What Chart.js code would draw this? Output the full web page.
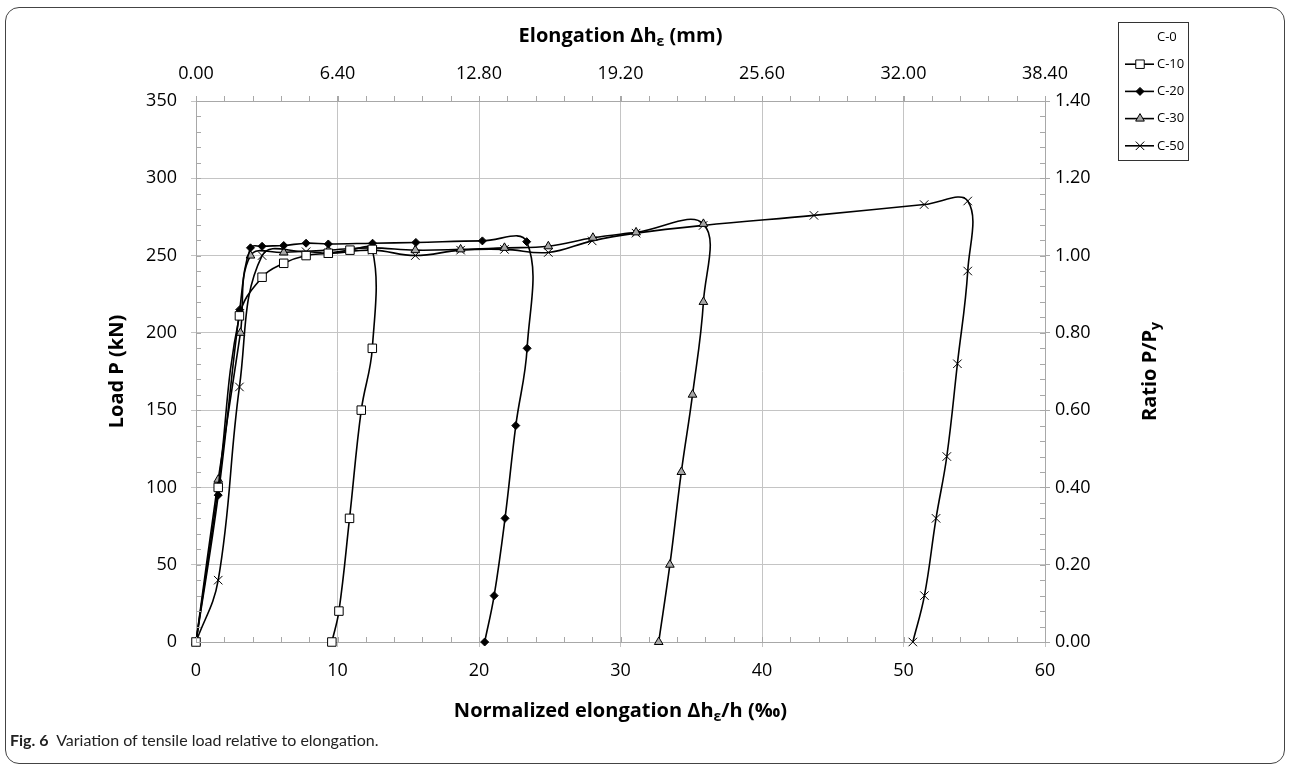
<!DOCTYPE html>
<html lang="en">
<head>
<meta charset="UTF-8">
<title>Fig. 6 - Tensile load vs elongation</title>
<script src="https://cdn.jsdelivr.net/npm/chart.js"></script>
<style>
    body {
        margin: 0;
        background: #fff;
        font-family: "Open Sans", sans-serif;
    }
    #frame {
        position: absolute;
        left: 5px;
        top: 7px;
        width: 1278px;
        height: 755px;
        border: 1px solid #444;
        border-radius: 14px;
    }
    #wrap {
        position: absolute;
        left: 0;
        top: 0;
        width: 1290px;
        height: 771px;
    }
    #caption {
        position: absolute;
        left: 10px;
        top: 730px;
        font-family: Lato, sans-serif;
        font-size: 16px;
        color: #222;
    }
</style>
</head>
<body>
<div id="frame"></div>
<div id="wrap"><canvas id="chart" width="1290" height="771"></canvas></div>
<div id="caption"><b>Fig. 6</b>&nbsp; Variation of tensile load relative to elongation.</div>

<script>
// valori: allungamento normalizzato (‰) e carico P (kN)
const seriesNames = ['C-0', 'C-10', 'C-20', 'C-30', 'C-50'];

const c0Strain = [];
const c0Load = [];

const c10Strain = [0, 1.57, 3.07, 4.67, 6.2, 7.78, 9.35, 10.88, 12.46, 12.46, 11.68, 10.85, 10.1, 9.6];
const c10Load = [0, 100, 211, 236, 245, 250, 251.5, 253.5, 254, 190, 150, 80, 20, 0];

const c20Strain = [0, 1.57, 3.09, 3.85, 4.67, 6.2, 7.78, 9.35, 12.48, 15.54, 20.24, 23.37, 23.4, 22.6, 21.84, 21.07, 20.4];
const c20Load = [0, 95, 215, 255, 256, 256.5, 258, 257.5, 258, 258.5, 259.5, 259, 190, 140, 80, 30, 0];

const c30Strain = [0, 1.57, 3.14, 3.85, 6.2, 9.35, 12.4, 15.5, 18.7, 21.8, 24.9, 28.05, 31.1, 35.86, 35.86, 35.09, 34.3, 33.49, 32.7];
const c30Load = [0, 105, 200, 250, 252, 253.5, 255, 253.5, 254, 255, 256, 261.5, 265, 270.5, 220, 160, 110, 50, 0];

const c50Strain = [0, 1.57, 3.07, 4.67, 7.78, 9.35, 12.48, 15.5, 18.7, 21.8, 24.9, 28.0, 31.1, 35.84, 43.67, 51.46, 54.54, 54.54, 53.81, 53.06, 52.3, 51.48, 50.66];
const c50Load = [0, 40, 165, 250, 252.5, 251.5, 253.5, 250, 253.5, 254, 252, 259.5, 264.5, 269.5, 276, 283, 285.3, 240, 180, 120, 80, 30, 0];

// etichette degli assi
const normTicks = [0, 10, 20, 30, 40, 50, 60];
const elongTicks = [0, 6.4, 12.8, 19.2, 25.6, 32.0, 38.4];
const loadTicks = [0, 50, 100, 150, 200, 250, 300, 350];
const ratioTicks = [0, 0.2, 0.4, 0.6, 0.8, 1.0, 1.2, 1.4];

const titleBottom = [{ t: 'Normalized elongation Δh' }, { t: 'ε', sub: true }, { t: '/h (‰)' }];
const titleTop = [{ t: 'Elongation Δh' }, { t: 'ε', sub: true }, { t: ' (mm)' }];
const titleLeft = [{ t: 'Load P (kN)' }];
const titleRight = [{ t: 'Ratio P/P' }, { t: 'y', sub: true }];

const gridColor = '#c4c4c4';
const axisColor = '#a8a8a8';
const tickFont = { family: 'Open Sans', size: 18 };

function pts(xs, ys) {
    return xs.map((x, i) => ({ x: x, y: ys[i] }));
}

function makeSet(label, xs, ys, style, radius, fillCol) {
    return {
        label: label,
        data: pts(xs, ys),
        borderColor: '#000',
        borderWidth: 1.6,
        tension: 0.4,
        fill: false,
        clip: false,
        pointStyle: style,
        pointRadius: radius,
        pointHoverRadius: radius,
        pointBackgroundColor: fillCol,
        pointBorderColor: '#000',
        pointBorderWidth: 1
    };
}

// testo con pedici (ε, y)
function drawRich(ctx, parts, x, y, rot, size) {
    const big = 'bold ' + size + 'px "Open Sans"';
    const small = 'bold ' + Math.round(size * 0.68) + 'px "Open Sans"';
    ctx.save();
    ctx.translate(x, y);
    ctx.rotate(rot);
    ctx.textAlign = 'left';
    ctx.textBaseline = 'middle';
    ctx.fillStyle = '#000';
    let w = 0;
    parts.forEach(p => { ctx.font = p.sub ? small : big; w += ctx.measureText(p.t).width; });
    let cx = -w / 2;
    parts.forEach(p => {
        ctx.font = p.sub ? small : big;
        ctx.fillText(p.t, cx, p.sub ? size * 0.32 : 0);
        cx += ctx.measureText(p.t).width;
    });
    ctx.restore();
}

const axisTitles = {
    id: 'axisTitles',
    afterDraw(chart) {
        const ctx = chart.ctx;
        const a = chart.chartArea;
        const midX = (a.left + a.right) / 2;
        const midY = (a.top + a.bottom) / 2;
        drawRich(ctx, titleTop, midX, 36, 0, 20);
        drawRich(ctx, titleBottom, midX, 711, 0, 20);
        drawRich(ctx, titleLeft, 117, midY, -Math.PI / 2, 20);
        drawRich(ctx, titleRight, 1150, midY, -Math.PI / 2, 20);
    }
};

// tacche secondarie
const minorTicks = {
    id: 'minorTicks',
    afterDraw(chart) {
        const ctx = chart.ctx;
        const a = chart.chartArea;
        const sx = chart.scales.x;
        const sy = chart.scales.y;
        ctx.save();
        ctx.strokeStyle = axisColor;
        ctx.lineWidth = 1;
        ctx.beginPath();
        for (let v = 0; v <= 60; v += 2) {
            const px = Math.round(sx.getPixelForValue(v)) + 0.5;
            ctx.moveTo(px, a.bottom);
            ctx.lineTo(px, a.bottom - 5);
            ctx.moveTo(px, a.top);
            ctx.lineTo(px, a.top - 5);
        }
        for (let v = 0; v <= 350; v += 10) {
            const py = Math.round(sy.getPixelForValue(v)) + 0.5;
            ctx.moveTo(a.left, py);
            ctx.lineTo(a.left + 5, py);
            ctx.moveTo(a.right, py);
            ctx.lineTo(a.right - 5, py);
        }
        ctx.stroke();
        ctx.restore();
    }
};

// legenda nel riquadro in alto a destra
const boxLegend = {
    id: 'boxLegend',
    afterDraw(chart) {
        const ctx = chart.ctx;
        const left = 1118, top = 22, w = 70, h = 138;
        ctx.save();
        ctx.strokeStyle = '#333';
        ctx.lineWidth = 1;
        ctx.strokeRect(left + 0.5, top + 0.5, w, h);
        ctx.font = '13px "Open Sans"';
        ctx.textBaseline = 'middle';
        ctx.textAlign = 'left';
        chart.data.datasets.forEach((ds, i) => {
            const y = top + 15 + i * 27.2;
            ctx.fillStyle = '#000';
            ctx.fillText(ds.label, 1157, y);
            if (!ds.data.length) return;
            ctx.strokeStyle = '#000';
            ctx.lineWidth = 1.6;
            ctx.beginPath();
            ctx.moveTo(1125, y);
            ctx.lineTo(1154, y);
            ctx.stroke();
            ctx.lineWidth = 1;
            ctx.fillStyle = ds.pointBackgroundColor;
            ctx.strokeStyle = '#000';
            Chart.helpers.drawPoint(ctx, {
                pointStyle: ds.pointStyle,
                radius: ds.pointRadius,
                rotation: 0,
                borderWidth: 1
            }, 1140, y);
        });
        ctx.restore();
    }
};

const ctx = document.getElementById('chart').getContext('2d');
new Chart(ctx, {
    type: 'line',
    data: {
        datasets: [
            makeSet(seriesNames[0], c0Strain, c0Load, false, 0, '#000'),
            makeSet(seriesNames[1], c10Strain, c10Load, 'rect', 6, '#fff'),
            makeSet(seriesNames[2], c20Strain, c20Load, 'rectRot', 4, '#000'),
            makeSet(seriesNames[3], c30Strain, c30Load, 'triangle', 5, '#a6a6a6'),
            makeSet(seriesNames[4], c50Strain, c50Load, 'crossRot', 6, '#000')
        ]
    },
    options: {
        responsive: false,
        animation: false,
        layout: { padding: 0 },
        plugins: {
            legend: { display: false },
            tooltip: { enabled: false }
        },
        scales: {
            x: {
                type: 'linear',
                position: 'bottom',
                min: 0,
                max: 60,
                afterBuildTicks: s => { s.ticks = normTicks.map(v => ({ value: v })); },
                afterFit: s => { s.height = 129; },
                ticks: { color: '#000', font: tickFont, padding: 13, maxRotation: 0 },
                grid: { color: gridColor, tickLength: 5 },
                border: { color: axisColor }
            },
            xTop: {
                type: 'linear',
                position: 'top',
                display: true,
                min: 0,
                max: 38.4,
                afterBuildTicks: s => { s.ticks = elongTicks.map(v => ({ value: v })); },
                afterFit: s => { s.height = 101; },
                ticks: { color: '#000', font: tickFont, padding: 11, maxRotation: 0, callback: v => v.toFixed(2) },
                grid: { drawOnChartArea: false, color: axisColor, tickLength: 5 },
                border: { color: axisColor }
            },
            y: {
                type: 'linear',
                position: 'left',
                min: 0,
                max: 350,
                afterBuildTicks: s => { s.ticks = loadTicks.map(v => ({ value: v })); },
                afterFit: s => { s.width = 196; },
                ticks: { color: '#000', font: tickFont, padding: 14 },
                grid: { color: gridColor, tickLength: 5 },
                border: { color: axisColor }
            },
            yRight: {
                type: 'linear',
                position: 'right',
                display: true,
                min: 0,
                max: 1.4,
                afterBuildTicks: s => { s.ticks = ratioTicks.map(v => ({ value: v })); },
                afterFit: s => { s.width = 245; },
                ticks: { color: '#000', font: tickFont, padding: 5, callback: v => v.toFixed(2) },
                grid: { drawOnChartArea: false, color: axisColor, tickLength: 5 },
                border: { color: axisColor }
            }
        }
    },
    plugins: [minorTicks, axisTitles, boxLegend]
});
</script>
</body>
</html>
